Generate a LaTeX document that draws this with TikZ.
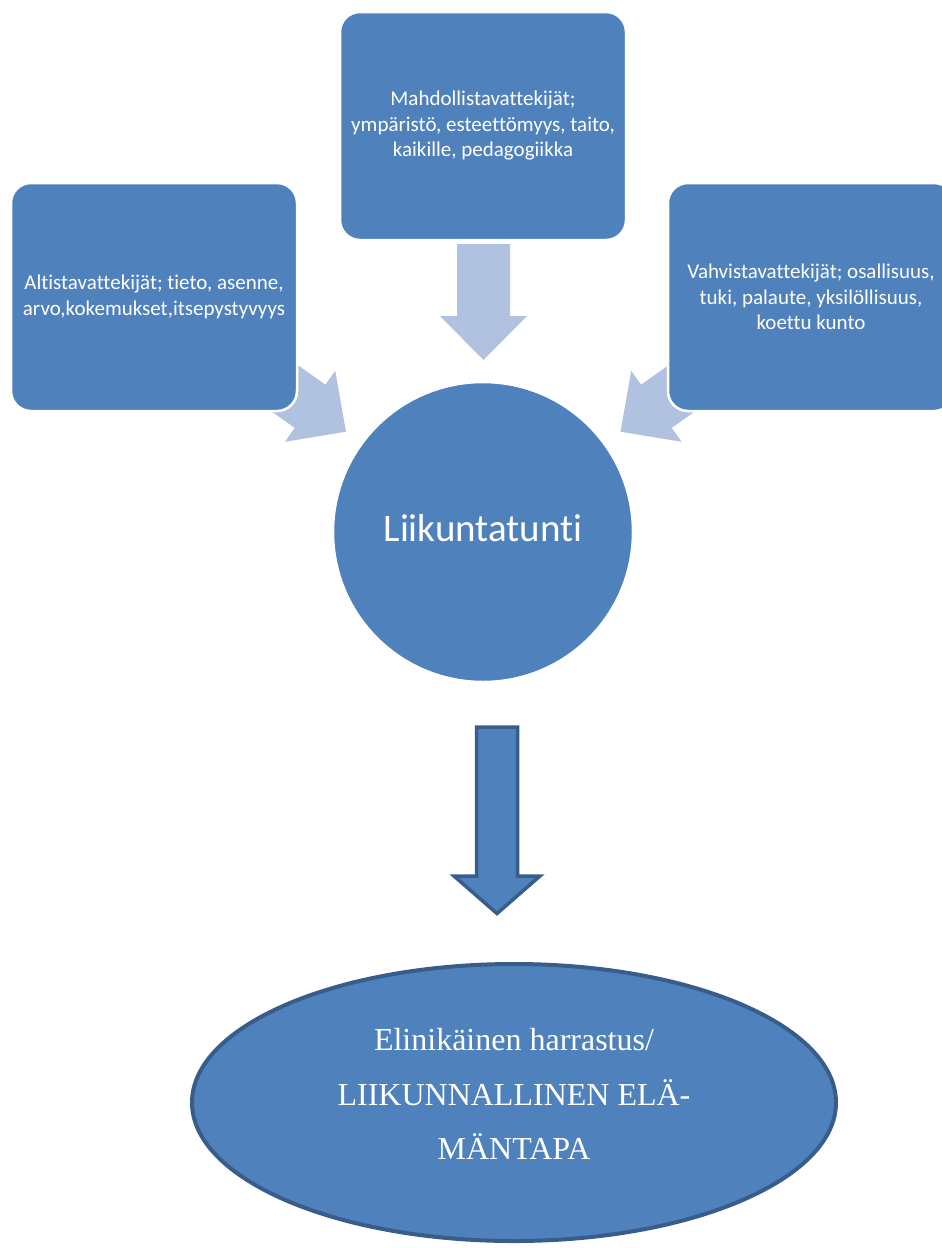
\documentclass[tikz,border=0pt]{standalone}
\usepackage{fontspec}
\setmainfont{Carlito}[Ligatures={NoCommon}]
\newfontfamily\serifr{Liberation Serif}
\usetikzlibrary{shapes.geometric}
\definecolor{boxblue}{HTML}{4F81BD}
\definecolor{darkblue}{HTML}{385D8A}
\definecolor{lightblue}{HTML}{B0C2DF}
\begin{document}
\begin{tikzpicture}[x=1pt,y=-1pt,
  fbox/.style={draw=white,line width=2.5pt,fill=boxblue,rounded corners=20pt,
    minimum width=286pt,minimum height=228pt,inner sep=0pt,
    text=white,align=center,font=\fontsize{21}{25.5}\selectfont},
  larrow/.pic={\fill[lightblue] (0,0) -- (-44,43.5) -- (-44,26.5) -- (-116,26.5)
      -- (-116,-26.5) -- (-44,-26.5) -- (-44,-43.5) -- cycle;},
]
\useasboundingbox (0,0) rectangle (942,1248);
% light block arrows towards the circle
\pic[rotate=-90] at (483.5,360) {larrow};
\pic[rotate=-35.3] at (346,431.7) {larrow};
\pic[rotate=-144.7] at (620.5,431.7) {larrow};
% boxes
\node[fbox] (alt) at (154,297) {Altistavattekijät; tieto, asenne,\\arvo,kokemukset,itsepystyvyys};
\node[fbox] (mah) at (483,126) {Mahdollistavattekijät;\\ympäristö, esteettömyys, taito,\\kaikille, pedagogiikka};
\node[fbox] (vah) at (811,297) {Vahvistavattekijät; osallisuus,\\tuki, palaute, yksilöllisuus,\\koettu kunto};
% circle
\node[circle,fill=boxblue,draw=white,line width=2.5pt,minimum size=300pt,inner sep=0pt] (lt) at (483,532) {};
\node[text=white,font=\fontsize{39}{46}\selectfont,inner sep=0pt] (lttext) at (483,528) {Liikuntatunti};
% dark block arrow
\draw[darkblue,line width=3.5pt,fill=boxblue,line join=miter]
  (476.5,727) -- (517.5,727) -- (517.5,876) -- (540,876) -- (497,913.5)
  -- (454,876) -- (476.5,876) -- cycle;
% ellipse
\node[ellipse,draw=darkblue,line width=4pt,fill=boxblue,minimum width=644pt,minimum height=277pt] (ell) at (514,1102.5) {};
\node[text=white,align=center,font=\serifr\fontsize{32}{54.5}\selectfont,inner sep=0pt] (etext) at (514,1094)
  {Elinikäinen harrastus/\\LIIKUNNALLINEN ELÄ-\\MÄNTAPA};
\end{tikzpicture}
\end{document}
